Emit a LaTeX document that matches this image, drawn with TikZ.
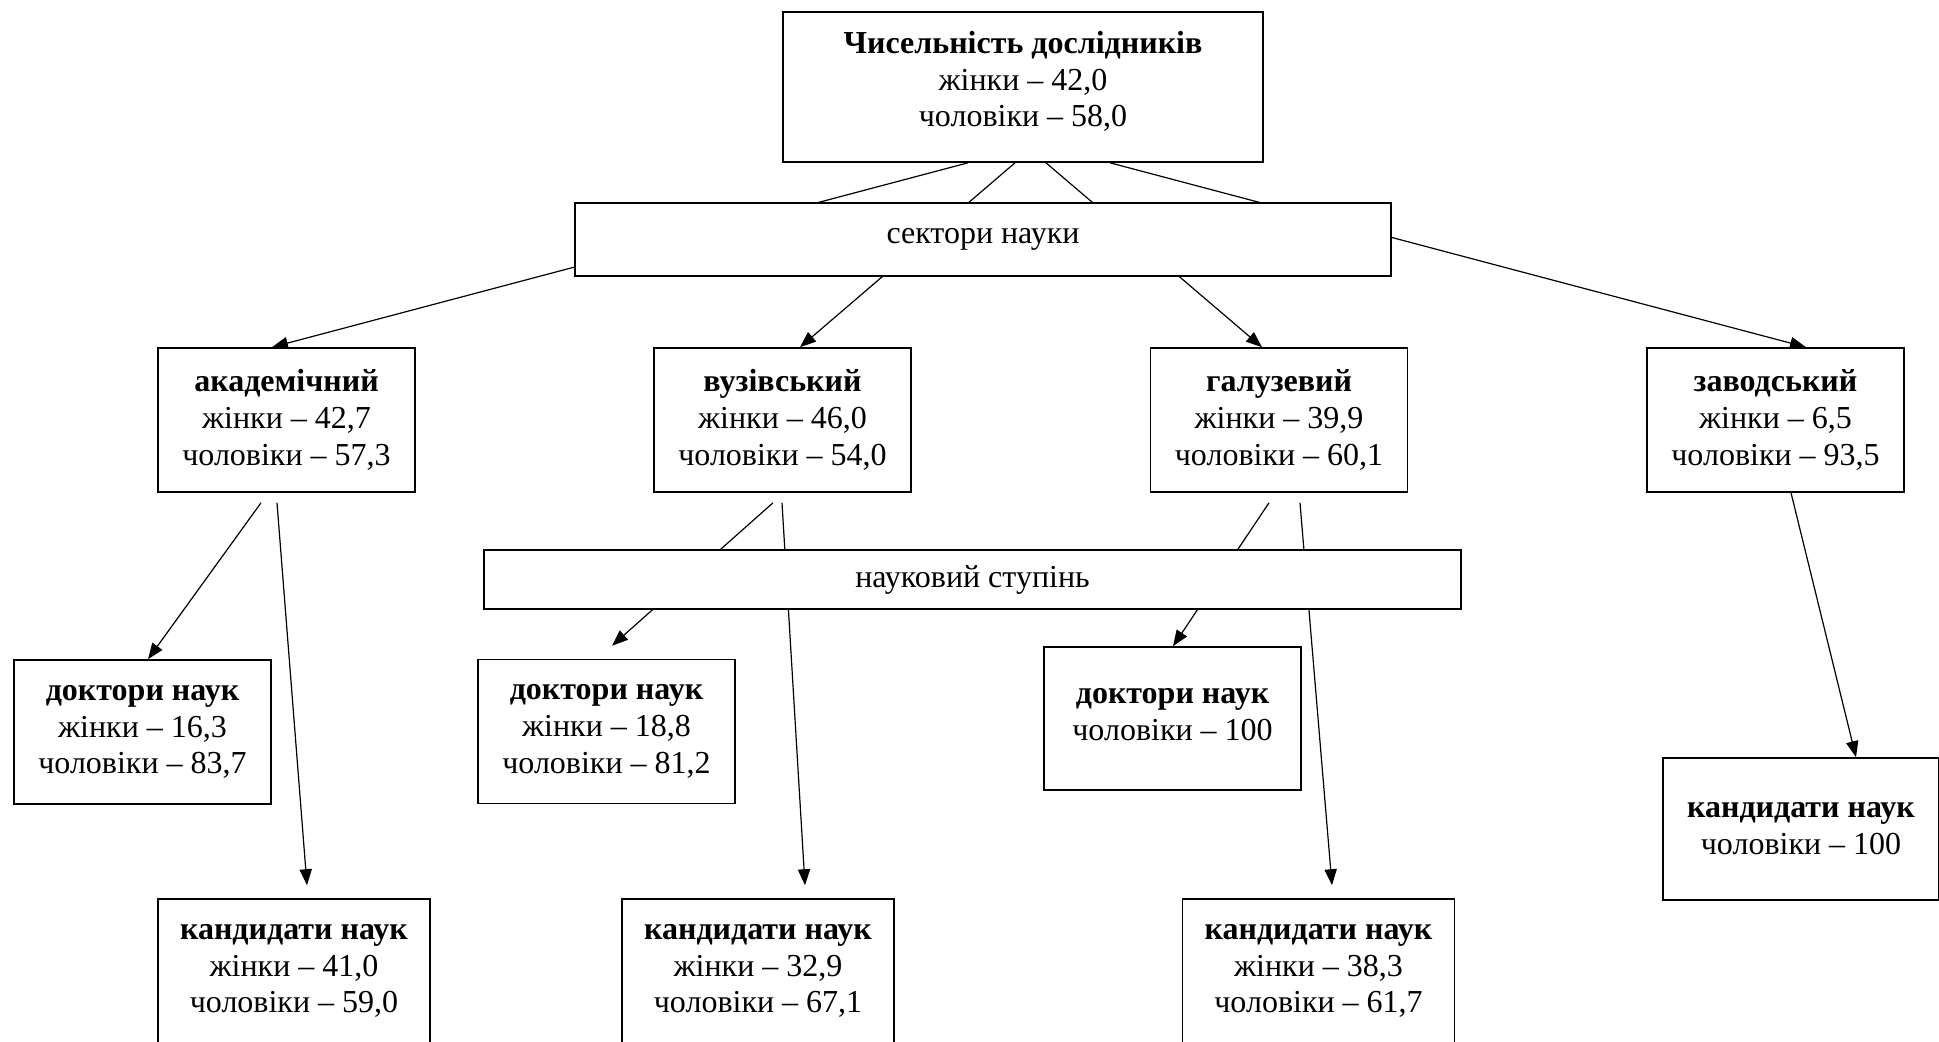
\documentclass[tikz,border=0pt]{standalone}
\usepackage{fontspec}
\setmainfont{Liberation Serif}
\usepackage{tikz}
\usetikzlibrary{arrows.meta,calc}

\tikzset{
	box/.style={draw,line width=0.6pt,fill=white,align=center,inner sep=0pt,
		minimum width=96.4pt,minimum height=54pt,font=\fontsize{12}{13.8}\selectfont},
	cand/.style={box,minimum width=102pt},
	band/.style={box,minimum height=27.4pt},
	arr/.style={-{Triangle[length=6pt,width=4.6pt]},line width=0.45pt},
}

\begin{document}
\begin{tikzpicture}[x=0.375pt,y=-0.375pt]
	\useasboundingbox (0,0) rectangle (1939,1041);
	%
	%  BOXES
	%
	\node[box,minimum width=180pt,minimum height=56.25pt,text depth=6pt] (1) at (1023,87) {\textbf{Чисельність дослідників}\\жінки – 42,0\\чоловіки – 58,0};
	\node[box] (2) at (286.5,420) {\textbf{академічний}\\жінки – 42,7\\чоловіки – 57,3};
	\node[box] (3) at (782.5,420) {\textbf{вузівський}\\жінки – 46,0\\чоловіки – 54,0};
	\node[box] (4) at (1279,420) {\textbf{галузевий}\\жінки – 39,9\\чоловіки – 60,1};
	\node[box] (5) at (1775.5,420) {\textbf{заводський}\\жінки – 6,5\\чоловіки – 93,5};
	\node[box] (6) at (142.5,732) {\textbf{доктори наук}\\жінки – 16,3\\чоловіки – 83,7};
	\node[cand] (7) at (294,971) {\textbf{кандидати наук}\\жінки – 41,0\\чоловіки – 59,0};
	\node[box] (8) at (606.5,731.5) {\textbf{доктори наук}\\жінки – 18,8\\чоловіки – 81,2};
	\node[cand] (9) at (758,971) {\textbf{кандидати наук}\\жінки – 32,9\\чоловіки – 67,1};
	\node[box,minimum height=53.6pt,text depth=3pt] (10) at (1172.5,718.5) {\textbf{доктори наук}\\чоловіки – 100};
	\node[cand] (11) at (1318.5,971) {\textbf{кандидати наук}\\жінки – 38,3\\чоловіки – 61,7};
	\node[cand,minimum width=103.5pt,minimum height=53.25pt] (12) at (1801,829) {\textbf{кандидати наук}\\чоловіки – 100};
	%
	%  ARROWS
	%
	\path[arr]
	($(1.south)+(-55,0)$) edge ($(2.north)+(-14.5,0)$)
	($(1.south)+(-8,0)$) edge ($(3.north)+(17.5,0)$)
	($(1.south)+(23,0)$) edge ($(4.north)+(-17,0)$)
	($(1.south)+(87,0)$) edge ($(5.north)+(30.5,0)$)
	%
	($(2.south)+(-25.5,10)$) edge ($(6.north)+(5.5,0)$)
	($(2.south)+(-9.5,10)$) edge ($(7.north)+(13,-13)$)
	($(3.south)+(-9.5,10)$) edge ($(8.north)+(5.5,-13)$)
	($(3.south)+(-0.5,10)$) edge ($(9.north)+(47,-13)$)
	($(4.south)+(-10,10)$) edge ($(10.north)+(0.5,0)$)
	($(4.south)+(21,10)$) edge ($(11.north)+(13.5,-13)$)
	($(5.south)+(15.5,0)$) edge ($(12.north)+(55,0)$);
	%
	%  BANDS (drawn last, they hide the arrows passing behind)
	%
	\node[band,minimum width=306pt] (13) at (983,239.5) {сектори науки};
	\node[band,minimum width=366.4pt,minimum height=22.1pt] (14) at (972.5,579.5) {науковий ступінь};
\end{tikzpicture}
\end{document}
